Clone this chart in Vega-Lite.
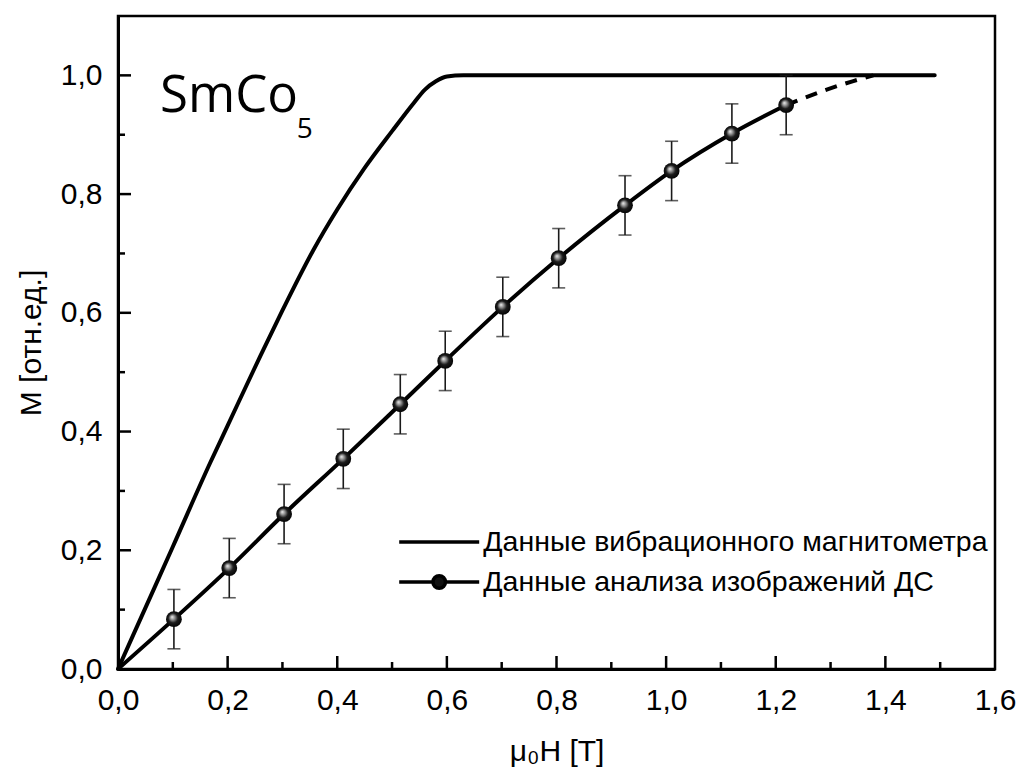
{
  "$schema": "https://vega.github.io/schema/vega-lite/v6.json",
  "width": 877,
  "height": 653,
  "autosize": {"type": "none"},
  "padding": {"left": 118, "top": 16, "right": 27, "bottom": 102},
  "background": "white",
  "datasets": {
    "vsm": [
      {"x": 0, "y": 0, "series": "Данные вибрационного магнитометра"},
      {"x": 0.05, "y": 0.103, "series": "Данные вибрационного магнитометра"},
      {"x": 0.1, "y": 0.206, "series": "Данные вибрационного магнитометра"},
      {"x": 0.168, "y": 0.347, "series": "Данные вибрационного магнитометра"},
      {"x": 0.2, "y": 0.41, "series": "Данные вибрационного магнитометра"},
      {"x": 0.26, "y": 0.528, "series": "Данные вибрационного магнитометра"},
      {"x": 0.3, "y": 0.604, "series": "Данные вибрационного магнитометра"},
      {"x": 0.356, "y": 0.705, "series": "Данные вибрационного магнитометра"},
      {"x": 0.4, "y": 0.774, "series": "Данные вибрационного магнитометра"},
      {"x": 0.45, "y": 0.844, "series": "Данные вибрационного магнитометра"},
      {"x": 0.5, "y": 0.906, "series": "Данные вибрационного магнитометра"},
      {"x": 0.54, "y": 0.954, "series": "Данные вибрационного магнитометра"},
      {"x": 0.56, "y": 0.976, "series": "Данные вибрационного магнитометра"},
      {"x": 0.58, "y": 0.99, "series": "Данные вибрационного магнитометра"},
      {"x": 0.6, "y": 0.998, "series": "Данные вибрационного магнитометра"},
      {"x": 0.63, "y": 1.0, "series": "Данные вибрационного магнитометра"},
      {"x": 1.49, "y": 1.0, "series": "Данные вибрационного магнитометра"}
    ],
    "fit": [
      {"x": 0, "y": 0, "series": "Данные анализа изображений ДС"},
      {"x": 0.102, "y": 0.084, "series": "Данные анализа изображений ДС"},
      {"x": 0.203, "y": 0.17, "series": "Данные анализа изображений ДС"},
      {"x": 0.303, "y": 0.261, "series": "Данные анализа изображений ДС"},
      {"x": 0.411, "y": 0.354, "series": "Данные анализа изображений ДС"},
      {"x": 0.515, "y": 0.446, "series": "Данные анализа изображений ДС"},
      {"x": 0.597, "y": 0.519, "series": "Данные анализа изображений ДС"},
      {"x": 0.702, "y": 0.61, "series": "Данные анализа изображений ДС"},
      {"x": 0.804, "y": 0.692, "series": "Данные анализа изображений ДС"},
      {"x": 0.925, "y": 0.781, "series": "Данные анализа изображений ДС"},
      {"x": 1.01, "y": 0.839, "series": "Данные анализа изображений ДС"},
      {"x": 1.12, "y": 0.902, "series": "Данные анализа изображений ДС"},
      {"x": 1.219, "y": 0.95, "series": "Данные анализа изображений ДС"}
    ],
    "dash": [
      {"x": 1.219, "y": 0.95},
      {"x": 1.293, "y": 0.976},
      {"x": 1.34, "y": 0.99},
      {"x": 1.378, "y": 1.0}
    ],
    "pts": [
      {"x": 0.102, "y": 0.084, "ylo": 0.034, "yhi": 0.134},
      {"x": 0.203, "y": 0.17, "ylo": 0.12, "yhi": 0.22},
      {"x": 0.303, "y": 0.261, "ylo": 0.211, "yhi": 0.311},
      {"x": 0.411, "y": 0.354, "ylo": 0.304, "yhi": 0.404},
      {"x": 0.515, "y": 0.446, "ylo": 0.396, "yhi": 0.496},
      {"x": 0.597, "y": 0.519, "ylo": 0.469, "yhi": 0.569},
      {"x": 0.702, "y": 0.61, "ylo": 0.56, "yhi": 0.66},
      {"x": 0.804, "y": 0.692, "ylo": 0.642, "yhi": 0.742},
      {"x": 0.925, "y": 0.781, "ylo": 0.731, "yhi": 0.831},
      {"x": 1.01, "y": 0.839, "ylo": 0.789, "yhi": 0.889},
      {"x": 1.12, "y": 0.902, "ylo": 0.852, "yhi": 0.952},
      {"x": 1.219, "y": 0.95, "ylo": 0.9, "yhi": 1.0}
    ],
    "xmajor": [{"v": 0.2}, {"v": 0.4}, {"v": 0.6}, {"v": 0.8}, {"v": 1.0}, {"v": 1.2}, {"v": 1.4}],
    "xminor": [{"v": 0.1}, {"v": 0.3}, {"v": 0.5}, {"v": 0.7}, {"v": 0.9}, {"v": 1.1}, {"v": 1.3}, {"v": 1.5}],
    "ymajor": [{"v": 0.2}, {"v": 0.4}, {"v": 0.6}, {"v": 0.8}, {"v": 1.0}],
    "yminor": [{"v": 0.1}, {"v": 0.3}, {"v": 0.5}, {"v": 0.7}, {"v": 0.9}],
    "ann": [{"t": "SmCo", "x": 0.0766, "y": 0.938}],
    "ann5": [{"t": "5", "x": 0.326, "y": 0.894}]
  },
  "layer": [
    {
      "data": {"name": "vsm"},
      "mark": {"type": "line", "strokeWidth": 4, "strokeCap": "round", "interpolate": "monotone"},
      "encoding": {
        "x": {
          "field": "x", "type": "quantitative",
          "scale": {"domain": [0, 1.6], "nice": false, "zero": false},
          "axis": {
            "orient": "bottom",
            "values": [0, 0.2, 0.4, 0.6, 0.8, 1.0, 1.2, 1.4, 1.6],
            "labelExpr": "replace(format(datum.value, '.1f'), '.', ',')",
            "ticks": false,
            "title": "μ₀H [T]",
            "titlePadding": 21,
            "labelPadding": 16
          }
        },
        "y": {
          "field": "y", "type": "quantitative",
          "scale": {"domain": [0, 1.1], "nice": false, "zero": false},
          "axis": {
            "orient": "left",
            "values": [0, 0.2, 0.4, 0.6, 0.8, 1.0],
            "labelExpr": "replace(format(datum.value, '.1f'), '.', ',')",
            "ticks": false,
            "title": "M [отн.ед.]",
            "titlePadding": 14,
            "labelPadding": 16
          }
        },
        "color": {
          "field": "series", "type": "nominal",
          "scale": {"domain": ["Данные вибрационного магнитометра", "Данные анализа изображений ДС"], "range": ["black", "black"]},
          "legend": {
            "title": null,
            "orient": "none",
            "legendX": 305.7,
            "legendY": 510.5,
            "padding": 0,
            "labelFont": "Liberation Sans",
            "labelFontSize": 28.5,
            "labelColor": "black",
            "labelOffset": 28.6,
            "rowPadding": 10,
            "symbolSize": 711,
            "symbolStrokeWidth": 3.5,
            "labelLimit": 0,
            "encode": {
              "symbols": {
                "update": {
                  "shape": {"signal": "datum.value === 'Данные вибрационного магнитометра' ? 'M-3,0H3' : 'M-3,0H-0.5M0.5,0H3M0.47,0A0.47,0.47 0 1,1 -0.47,0A0.47,0.47 0 1,1 0.47,0Z'"},
                  "fill": {"value": "#111"},
                  "stroke": {"value": "black"},
                  "strokeWidth": {"value": 3.5},
                  "size": {"value": 711}
                }
              }
            }
          }
        }
      }
    },
    {
      "data": {"name": "xmajor"},
      "mark": {"type": "rule", "strokeWidth": 2.5, "color": "black"},
      "encoding": {
        "x": {"field": "v", "type": "quantitative"},
        "y": {"datum": 0},
        "y2": {"datum": 0.0219}
      }
    },
    {
      "data": {"name": "xminor"},
      "mark": {"type": "rule", "strokeWidth": 2.5, "color": "black"},
      "encoding": {
        "x": {"field": "v", "type": "quantitative"},
        "y": {"datum": 0},
        "y2": {"datum": 0.0118}
      }
    },
    {
      "data": {"name": "ymajor"},
      "mark": {"type": "rule", "strokeWidth": 2.5, "color": "black"},
      "encoding": {
        "y": {"field": "v", "type": "quantitative"},
        "x": {"datum": 0},
        "x2": {"datum": 0.0237}
      }
    },
    {
      "data": {"name": "yminor"},
      "mark": {"type": "rule", "strokeWidth": 2.5, "color": "black"},
      "encoding": {
        "y": {"field": "v", "type": "quantitative"},
        "x": {"datum": 0},
        "x2": {"datum": 0.0128}
      }
    },
    {
      "data": {"name": "fit"},
      "mark": {"type": "line", "strokeWidth": 4, "interpolate": "monotone"},
      "encoding": {
        "x": {"field": "x", "type": "quantitative"},
        "y": {"field": "y", "type": "quantitative"},
        "color": {"field": "series", "type": "nominal"}
      }
    },
    {
      "data": {"name": "dash"},
      "mark": {"type": "line", "strokeWidth": 4, "strokeDash": [12, 9], "color": "black", "interpolate": "monotone"},
      "encoding": {
        "x": {"field": "x", "type": "quantitative"},
        "y": {"field": "y", "type": "quantitative"}
      }
    },
    {
      "data": {"name": "pts"},
      "mark": {"type": "rule", "strokeWidth": 1.6, "color": "#1a1a1a"},
      "encoding": {
        "x": {"field": "x", "type": "quantitative"},
        "y": {"field": "ylo", "type": "quantitative"},
        "y2": {"field": "yhi"}
      }
    },
    {
      "data": {"name": "pts"},
      "mark": {"type": "tick", "orient": "horizontal", "size": 13, "thickness": 1.6, "color": "#1a1a1a"},
      "encoding": {
        "x": {"field": "x", "type": "quantitative"},
        "y": {"field": "ylo", "type": "quantitative"}
      }
    },
    {
      "data": {"name": "pts"},
      "mark": {"type": "tick", "orient": "horizontal", "size": 13, "thickness": 1.6, "color": "#1a1a1a"},
      "encoding": {
        "x": {"field": "x", "type": "quantitative"},
        "y": {"field": "yhi", "type": "quantitative"}
      }
    },
    {
      "data": {"name": "pts"},
      "mark": {
        "type": "point", "shape": "circle", "filled": true, "size": 250, "opacity": 1, "strokeWidth": 0,
        "fill": {
          "gradient": "radial", "x1": 0.38, "y1": 0.36, "r1": 0, "x2": 0.5, "y2": 0.5, "r2": 0.55,
          "stops": [
            {"offset": 0, "color": "#f2f2f2"},
            {"offset": 0.28, "color": "#8a8a8a"},
            {"offset": 0.55, "color": "#1c1c1c"},
            {"offset": 1, "color": "#000000"}
          ]
        }
      },
      "encoding": {
        "x": {"field": "x", "type": "quantitative"},
        "y": {"field": "y", "type": "quantitative"}
      }
    },
    {
      "data": {"name": "ann"},
      "mark": {"type": "text", "font": "Open Sans", "fontSize": 51, "align": "left", "baseline": "alphabetic", "color": "black"},
      "encoding": {
        "x": {"field": "x", "type": "quantitative"},
        "y": {"field": "y", "type": "quantitative"},
        "text": {"field": "t"}
      }
    },
    {
      "data": {"name": "ann5"},
      "mark": {"type": "text", "font": "Open Sans", "fontSize": 28, "align": "left", "baseline": "alphabetic", "color": "black"},
      "encoding": {
        "x": {"field": "x", "type": "quantitative"},
        "y": {"field": "y", "type": "quantitative"},
        "text": {"field": "t"}
      }
    }
  ],
  "config": {
    "view": {"stroke": "black", "strokeWidth": 2.5},
    "axis": {
      "grid": false,
      "domainColor": "black",
      "domainWidth": 3,
      "labelFont": "Liberation Sans",
      "labelFontSize": 30,
      "labelColor": "black",
      "labelFlush": false,
      "labelOverlap": false,
      "titleFont": "Liberation Sans",
      "titleFontSize": 30,
      "titleFontWeight": "normal",
      "titleColor": "black"
    }
  }
}
